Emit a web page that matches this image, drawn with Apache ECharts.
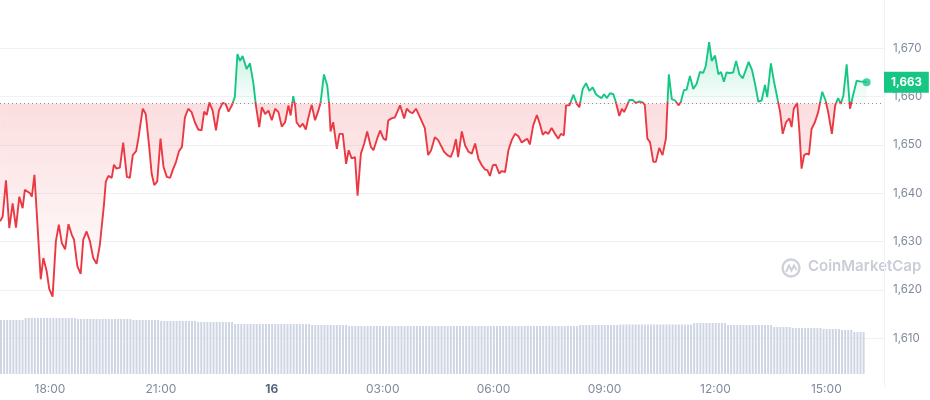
<!DOCTYPE html>
<html>
<head>
<meta charset="utf-8">
<script src="https://cdn.jsdelivr.net/npm/echarts@6/dist/echarts.min.js"></script>
<style>
html,body{margin:0;padding:0;background:#fff;}
#chart{width:930px;height:400px;}
</style>
</head>
<body>
<div id="chart"></div>
<script>
// Time of each price point, in hours from 00:00 on the 15th (24 = 00:00 on the 16th)
const times = [16.65,16.72,16.81,16.90,16.99,17.08,17.17,17.26,17.32,17.46,
17.51,17.58,17.75,17.82,17.91,17.98,18.07,18.16,18.24,18.32,
18.41,18.50,18.59,18.65,18.74,18.83,18.90,18.99,19.08,19.17,
19.26,19.35,19.46,19.51,19.58,19.67,19.73,19.80,19.89,19.98,
20.08,20.16,20.24,20.33,20.39,20.45,20.51,20.59,20.68,20.75,
20.82,20.90,20.99,21.07,21.16,21.25,21.32,21.41,21.49,21.57,
21.65,21.74,21.83,21.92,22.01,22.10,22.17,22.24,22.31,22.40,
22.49,22.57,22.67,22.75,22.83,22.92,23.00,23.07,23.14,23.21,
23.32,23.41,23.50,23.57,23.66,23.73,23.82,23.91,24.00,24.09,
24.18,24.27,24.36,24.45,24.51,24.58,24.63,24.67,24.76,24.84,
24.92,24.99,25.08,25.17,25.26,25.32,25.41,25.50,25.55,25.59,
25.66,25.76,25.83,25.92,26.01,26.08,26.16,26.25,26.32,26.41,
26.50,26.58,26.68,26.75,26.85,26.93,27.02,27.09,27.15,27.24,
27.33,27.47,27.58,27.65,27.74,27.81,27.90,28.01,28.14,28.23,
28.31,28.41,28.50,28.66,28.75,28.84,28.91,28.98,29.04,29.14,
29.23,29.32,29.41,29.50,29.59,29.68,29.77,29.83,29.90,29.98,
30.06,30.15,30.22,30.31,30.40,30.49,30.58,30.67,30.76,30.85,
30.91,30.98,31.07,31.17,31.25,31.33,31.40,31.48,31.57,31.66,
31.75,31.82,31.90,31.96,32.05,32.16,32.25,32.32,32.41,32.50,
32.59,32.68,32.77,32.83,32.92,32.99,33.06,33.15,33.24,33.31,
33.40,33.47,33.53,33.60,33.67,33.76,33.85,33.94,34.03,34.09,
34.16,34.23,34.32,34.39,34.48,34.57,34.66,34.74,34.82,34.91,
35.00,35.06,35.15,35.22,35.31,35.40,35.49,35.58,35.67,35.74,
35.83,35.90,35.99,36.08,36.15,36.23,36.30,36.39,36.48,36.56,
36.65,36.74,36.83,36.90,36.99,37.08,37.16,37.25,37.34,37.40,
37.50,37.58,37.67,37.75,37.82,37.91,38.00,38.06,38.12,38.21,
38.27,38.33,38.40,38.47,38.53,38.60,38.69,38.78,38.89,38.98,
39.05,39.15,39.24,39.32,39.39,39.46,39.55,39.64,39.73,39.82,
39.93,40.02,40.09];

const prices = [1634.2,1635.2,1642.7,1632.8,1637.9,1632.9,1639.3,1636.9,1640.7,1640.0,
1639.3,1643.8,1622.2,1626.6,1623.9,1620.2,1618.6,1630.1,1633.5,1629.7,
1628.4,1633.6,1631.4,1630.4,1624.9,1623.3,1630.4,1632.1,1630.1,1626.6,
1625.4,1629.4,1637.6,1642.4,1643.6,1643.2,1645.9,1645.1,1645.3,1650.5,
1643.4,1643.2,1647.9,1648.7,1651.3,1654.4,1657.5,1656.4,1649.9,1644.1,
1641.7,1642.4,1651.3,1645.5,1643.4,1643.2,1644.8,1646.5,1648.7,1649.6,
1655.7,1657.5,1656.8,1654.7,1653.2,1653.0,1656.9,1656.2,1658.8,1657.1,
1653.0,1657.1,1658.7,1658.5,1656.9,1658.2,1659.9,1668.8,1667.4,1668.4,
1665.7,1666.9,1662.9,1658.2,1653.7,1657.8,1656.4,1657.1,1655.1,1657.5,
1656.8,1653.8,1654.7,1658.2,1656.1,1660.1,1658.2,1654.7,1653.7,1654.4,
1653.2,1655.7,1658.3,1655.1,1657.1,1658.8,1664.6,1662.3,1658.5,1652.8,
1654.7,1649.2,1652.3,1652.3,1646.1,1648.9,1647.2,1647.5,1639.5,1648.2,
1650.3,1652.8,1649.6,1648.9,1651.3,1653.0,1651.3,1651.0,1655.1,1655.5,
1655.7,1658.2,1655.5,1657.5,1656.8,1656.6,1657.5,1655.7,1653.5,1647.9,
1648.9,1651.6,1651.0,1648.6,1647.9,1647.5,1648.9,1651.2,1647.5,1652.8,
1649.9,1648.6,1648.2,1650.3,1647.1,1645.8,1644.9,1644.8,1643.6,1645.8,
1645.9,1644.1,1644.6,1644.4,1648.9,1651.0,1652.3,1651.8,1650.5,1651.0,
1651.3,1650.1,1654.0,1656.2,1654.4,1652.1,1652.7,1652.3,1653.5,1652.3,
1651.3,1652.3,1652.0,1658.2,1658.2,1660.4,1658.5,1657.8,1661.6,1662.8,
1661.2,1661.9,1660.5,1660.1,1659.7,1660.5,1659.7,1660.7,1660.5,1658.8,
1656.0,1657.5,1656.8,1658.0,1659.3,1659.3,1658.7,1659.0,1658.8,1658.3,
1651.3,1650.6,1646.5,1646.5,1649.4,1647.9,1651.3,1664.6,1659.5,1659.2,
1658.2,1658.8,1661.4,1661.4,1664.3,1661.6,1662.6,1665.1,1664.9,1666.4,
1671.3,1667.4,1668.5,1664.6,1665.1,1663.1,1665.0,1664.9,1665.0,1667.4,
1664.6,1663.8,1665.7,1667.2,1665.5,1662.3,1659.0,1659.2,1662.4,1659.9,
1666.9,1663.3,1659.9,1656.8,1652.3,1654.7,1655.5,1653.7,1657.5,1658.7,
1653.0,1645.1,1647.9,1648.2,1648.0,1653.3,1654.7,1656.8,1661.0,1659.2,
1656.8,1652.3,1658.2,1659.7,1658.5,1660.2,1666.7,1657.5,1660.5,1663.3,
1663.1,1663.1,1663.0];

// Opening (reference) price shown by the dotted line
const openPrice = 1658.6;

// 5-minute volume bars (relative units), first bar at 16:40
const volStartHour = 16.675;
const volStepHours = 5 / 60;
const volumes = [
54,54,54,54,54,54,54,54,
56,56,56,56,56,56,56,56,56,56,56,56,56,56,56,56,56,
55,55,55,55,55,55,55,55,55,55,55,55,55,55,55,55,55,55,
54,54,54,54,54,54,54,54,54,
53,53,53,53,53,53,53,53,53,53,53,53,
52,52,52,52,52,52,52,52,52,52,52,52,
50,50,50,50,50,50,50,50,50,50,50,50,
50,50,50,50,50,50,50,50,50,50,50,50,50,
49,49,49,49,49,49,49,49,49,49,49,49,
48,48,48,48,48,48,48,48,48,48,48,48,48,48,48,48,48,48,48,48,48,48,48,48,48,
48,48,48,48,48,48,48,48,48,48,48,48,48,48,48,48,48,48,48,48,48,48,48,48,48,
48,48,48,48,48,48,48,48,48,48,48,48,48,48,48,48,48,48,48,48,48,48,48,48,48,
49,49,49,49,49,49,49,49,49,49,49,49,49,
49.5,49.5,49.5,49.5,49.5,49.5,49.5,49.5,49.5,49.5,49.5,49.5,
49.5,49.5,49.5,49.5,49.5,49.5,49.5,49.5,49.5,49.5,49.5,49.5,
51,51,51,51,51,51,51,51,51,51,51,
49,49,49,49,49,49,49,49,49,49,49,49,49,49,49,
47,47,47,47,47,47,
46,46,46,46,46,46,46,46,46,46,
45,45,45,45,45,45,
44,44,44,44,
42,42,42,42];

// X-axis tick positions (hours) and their labels
const tickHours = [18, 21, 24, 27, 30, 33, 36, 39];
const tickLabels = ['18:00', '21:00', '16', '03:00', '06:00', '09:00', '12:00', '15:00'];

// Price axis
const priceMin = 1600, priceMax = 1680, priceStep = 10;

const RED = '#ea3943', GREEN = '#16c784';
const xMin = 16.648, xMax = 40.56;

const n = Math.min(times.length, prices.length);
const priceData = [];
for (let i = 0; i < n; i++) priceData.push([times[i], prices[i]]);
const volData = volumes.map((v, i) => [volStartHour + i * volStepHours, v]);
const last = priceData[priceData.length - 1];

// Colour split at the opening price: fraction of the line's vertical extent above it
const pMax = Math.max(...prices), pMin = Math.min(...prices);
const b = (pMax - openPrice) / (pMax - pMin);
const areaGradient = new echarts.graphic.LinearGradient(0, 0, 0, 1, [
  { offset: 0, color: 'rgba(22,199,132,0.26)' },
  { offset: b, color: 'rgba(22,199,132,0.02)' },
  { offset: b, color: 'rgba(234,57,67,0.17)' },
  { offset: 1, color: 'rgba(234,57,67,0.0)' }
]);
const lineGradient = new echarts.graphic.LinearGradient(0, 0, 0, 1, [
  { offset: 0, color: GREEN },
  { offset: b, color: GREEN },
  { offset: b, color: RED },
  { offset: 1, color: RED }
]);

const fmt = v => Number(v).toLocaleString('en-US', { maximumFractionDigits: 0 });

const chart = echarts.init(document.getElementById('chart'), null, { renderer: 'canvas' });
chart.setOption({
  animation: false,
  backgroundColor: '#ffffff',
  textStyle: { fontFamily: 'Inter, "Noto Sans", sans-serif' },
  grid: [
    { left: 0, right: 46, top: -2.65, bottom: 13.45 },
    { left: 0, right: 46, top: 300, bottom: 26 }
  ],
  xAxis: [
    { type: 'value', gridIndex: 0, min: xMin, max: xMax, show: false },
    {
      type: 'value', gridIndex: 1, min: xMin, max: xMax,
      axisLine: { show: false }, axisTick: { show: false }, splitLine: { show: false },
      axisLabel: {
        customValues: tickHours,
        margin: 9,
        color: '#808a9d',
        fontSize: 12,
        formatter: function (v) {
          const i = tickHours.indexOf(Math.round(v));
          if (i < 0) return '';
          return i === 2 ? '{d|' + tickLabels[i] + '}' : tickLabels[i];
        },
        rich: { d: { fontWeight: 'bold', color: '#58667e', fontSize: 12 } }
      }
    }
  ],
  yAxis: [
    {
      type: 'value', gridIndex: 0, position: 'right',
      min: priceMin, max: priceMax, interval: priceStep,
      axisLine: { show: true, lineStyle: { color: '#eff2f5' } },
      axisTick: { show: false },
      splitLine: { show: true, showMinLine: false, showMaxLine: false, lineStyle: { color: '#eff2f5' } },
      axisLabel: {
        showMinLabel: false, showMaxLabel: false,
        margin: 9, color: '#808a9d', fontSize: 11.5,
        formatter: fmt
      }
    },
    { type: 'value', gridIndex: 1, min: 0, max: 74, show: false }
  ],
  series: [
    {
      type: 'line', xAxisIndex: 0, yAxisIndex: 0,
      data: priceData, showSymbol: false, symbol: 'none',
      lineStyle: { width: 1.9, color: lineGradient },
      itemStyle: { color: GREEN },
      areaStyle: { origin: openPrice, color: areaGradient, opacity: 1 },
      z: 3
    },
    {
      type: 'scatter', xAxisIndex: 0, yAxisIndex: 0,
      data: [last], symbolSize: 8,
      itemStyle: { color: GREEN },
      z: 4,
      markLine: {
        silent: true, symbol: 'none', animation: false,
        data: [
          { yAxis: openPrice, lineStyle: { type: [1, 3], color: '#8a93a3', width: 1 }, label: { show: false } },
          {
            yAxis: last[1], lineStyle: { color: 'rgba(255,255,255,0)', width: 1 },
            label: {
              show: true, position: 'end', distance: 0,
              formatter: fmt(last[1]),
              backgroundColor: GREEN, color: '#ffffff',
              fontWeight: 'bold', fontSize: 11.5,
              padding: [5, 7, 4, 7]
            }
          }
        ]
      }
    },
    {
      type: 'bar', xAxisIndex: 1, yAxisIndex: 1,
      data: volData, barWidth: 2,
      itemStyle: { color: '#cfd6e3' },
      z: 1
    }
  ],
  graphic: [
    {
      type: 'group', left: 780, top: 257, silent: true,
      children: [
        { type: 'circle', shape: { cx: 10, cy: 10, r: 8.5 }, style: { fill: 'none', stroke: '#cdd2da', lineWidth: 2.4 } },
        { type: 'polyline', shape: { points: [[5, 14], [8, 7.5], [10.5, 12.5], [13, 7.5], [15.5, 12]] }, style: { fill: 'none', stroke: '#cdd2da', lineWidth: 2 } },
        { type: 'text', left: 27, top: 1, style: { text: 'CoinMarketCap', fill: '#c9ced6', font: '600 15px Inter, sans-serif' } }
      ]
    }
  ]
});
</script>
</body>
</html>
